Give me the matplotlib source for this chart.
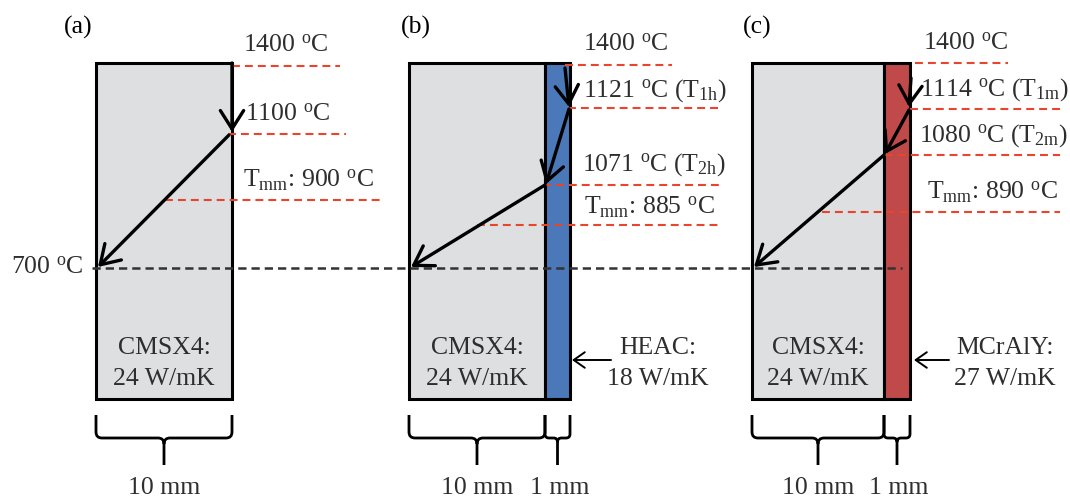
import numpy as np
import matplotlib.pyplot as plt
from matplotlib.path import Path
from matplotlib.patches import PathPatch, Rectangle

plt.rcParams['font.family'] = ['Liberation Serif', 'DejaVu Serif']
plt.rcParams['mathtext.fontset'] = 'custom'
plt.rcParams['mathtext.rm'] = 'Liberation Serif'
plt.rcParams['mathtext.it'] = 'Liberation Serif:italic'

# values shown in the schematic
panels = ['(a)', '(b)', '(c)']
t_hot = 1400
t_cold = 700
t_int1 = [1100, 1121, 1114]
t_int2 = [None, 1071, 1080]
t_sub1 = [None, '1h', '1m']
t_sub2 = [None, '2h', '2m']
t_mm = [900, 885, 890]
sub_name = 'CMSX4'
sub_k = 24
coat_name = [None, 'HEAC', 'MCrAlY']
coat_k = [None, 18, 27]
sub_mm = 10
coat_mm = 1

# layout in pixels (schematic, not to scale)
box_l = [96, 409, 752]
box_r = [232, 570, 910]
coat_l = [None, 545, 884]
box_t, box_b = 63, 399
y_hot = [66, 65, 63]
y_int1 = [134, 108, 109]
y_int2 = [None, 185, 155]
y_mm = [200, 225, 212]
y_cold = 268
hot_x = [(232, 340), (565, 672), (915, 1008)]
int1_x = [(228, 346), (568, 720), (910, 1060)]
int2_x = [None, (543, 720), (885, 1060)]
mm_x = [(165, 380), (477, 720), (822, 1060)]
lab_x = [(243, 245, None, 243), (583, 583, 582, 584), (923, 920, 919, 927)]
lab_y = [(46, 115, None, 180), (45, 91, 165, 207), (44, 90, 136, 192)]
panel_xy = [(78, 27), (416, 27), (757, 27)]
coat_txt_x = [None, 658, 1005]
coat_arrow = [None, (611, 572), (949, 914)]
v_arrow = [((232, 63), (232, 132)), ((565, 68), (569, 107)), ((911, 78), (909, 107))]

txt = '#2e2e2e'
red = '#e8452f'
fs = 18.5

fig = plt.figure(figsize=(10.7, 4.98), dpi=100)
ax = fig.add_axes([0, 0, 1, 1])
ax.set_xlim(0, 1070)
ax.set_ylim(498, 0)
ax.axis('off')


def arrow(p0, p1, lw=2.4, hl=0.6, hw=0.38, ms=22):
    ax.annotate('', xy=p1, xytext=p0,
                arrowprops=dict(arrowstyle='->,head_length=%s,head_width=%s' % (hl, hw),
                                lw=lw, color='black', mutation_scale=ms,
                                shrinkA=0, shrinkB=0))


def brace(x0, x1, yt=415, ym=438, yb=465, r=6):
    xc = (x0 + x1) / 2
    verts = [(x0, yt), (x0, ym - r), (x0, ym), (x0 + r, ym), (xc - r, ym), (xc, ym), (xc, ym + r),
             (xc, yb), (xc, ym + r), (xc, ym), (xc + r, ym), (x1 - r, ym), (x1, ym), (x1, ym - r), (x1, yt)]
    codes = [Path.MOVETO, Path.LINETO, Path.CURVE3, Path.CURVE3, Path.LINETO, Path.CURVE3, Path.CURVE3,
             Path.LINETO, Path.MOVETO, Path.CURVE3, Path.CURVE3, Path.LINETO, Path.CURVE3, Path.CURVE3, Path.LINETO]
    ax.add_patch(PathPatch(Path(verts, codes), fill=False, lw=2, color='black'))


def deg(t):
    return r'%d $^{\rm o}$C' % t


def red_line(xs, y):
    ax.plot(xs, [y, y], color=red, lw=1.5, dashes=(3.8, 2.4), zorder=2)


# 700 C line across all panels
ax.plot([92, 902], [y_cold, y_cold], color='#333333', lw=1.8, dashes=(3.3, 2.0), zorder=3)
ax.text(84, y_cold, deg(t_cold), ha='right', va='center', fontsize=fs, color=txt)

for i in range(3):
    # substrate + coating
    right_sub = coat_l[i] if coat_l[i] else box_r[i]
    ax.add_patch(Rectangle((box_l[i], box_t), right_sub - box_l[i], box_b - box_t,
                           facecolor='#dedfe0', edgecolor='black', lw=2.2, zorder=1))
    if coat_l[i]:
        col = '#4a78b8' if i == 1 else '#c0494a'
        ax.add_patch(Rectangle((coat_l[i], box_t), box_r[i] - coat_l[i], box_b - box_t,
                               facecolor=col, edgecolor='black', lw=2.2, zorder=1))

    ax.text(panel_xy[i][0], panel_xy[i][1], panels[i], ha='center', va='center', fontsize=fs, color='black')

    # red dashed levels
    red_line(hot_x[i], y_hot[i])
    red_line(int1_x[i], y_int1[i])
    if int2_x[i]:
        red_line(int2_x[i], y_int2[i])
    red_line(mm_x[i], y_mm[i])

    # labels
    ax.text(lab_x[i][0], lab_y[i][0], deg(t_hot), va='center', fontsize=fs, color=txt)
    s1 = deg(t_int1[i]) + (r' (T$_{\rm %s}$)' % t_sub1[i] if t_sub1[i] else '')
    ax.text(lab_x[i][1], lab_y[i][1], s1, va='center', fontsize=fs, color=txt)
    if t_int2[i]:
        s2 = deg(t_int2[i]) + r' (T$_{\rm %s}$)' % t_sub2[i]
        ax.text(lab_x[i][2], lab_y[i][2], s2, va='center', fontsize=fs, color=txt)
    ax.text(lab_x[i][3], lab_y[i][3], r'T$_{\rm mm}$: ' + deg(t_mm[i]), va='center', fontsize=fs, color=txt)

    # temperature arrows
    arrow(*v_arrow[i])
    if t_int2[i]:
        arrow((box_r[i] - 1, y_int1[i] + 1), (coat_l[i] + 1, y_int2[i] - 1))
        arrow((coat_l[i], y_int2[i]), (box_l[i] + 2, y_cold - 1))
    else:
        arrow((box_r[i] - 3, y_int1[i] + 1), (box_l[i] + 2, y_cold - 1))

    # material labels
    cx = (box_l[i] + right_sub) / 2
    ax.text(cx, 348, sub_name + ':', ha='center', va='center', fontsize=fs, color=txt)
    ax.text(cx, 379, '%d W/mK' % sub_k, ha='center', va='center', fontsize=fs, color=txt)
    if coat_name[i]:
        ax.text(coat_txt_x[i], 348, coat_name[i] + ':', ha='center', va='center', fontsize=fs, color=txt)
        ax.text(coat_txt_x[i], 379, '%d W/mK' % coat_k[i], ha='center', va='center', fontsize=fs, color=txt)
        arrow((coat_arrow[i][0], 360), (coat_arrow[i][1], 360), lw=1.4, hl=0.5, hw=0.35, ms=16)

    # thickness braces
    brace(box_l[i], right_sub)
    ax.text(cx, 488, '%d mm' % sub_mm, ha='center', va='center', fontsize=fs, color=txt)
    if coat_l[i]:
        brace(coat_l[i], box_r[i], r=4)
        ax.text((coat_l[i] + box_r[i]) / 2 + 2, 488, '%d mm' % coat_mm, ha='center', va='center',
                fontsize=fs, color=txt)

fig.savefig('out.png', dpi=100)
